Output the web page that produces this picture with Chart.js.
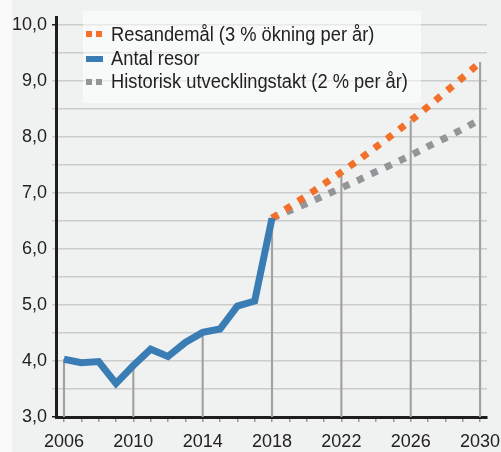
<!DOCTYPE html>
<html>
<head>
<meta charset="utf-8">
<script src="https://cdn.jsdelivr.net/npm/chart.js@4"></script>
<style>
  html, body { margin: 0; padding: 0; }
  body {
    width: 501px; height: 452px; overflow: hidden;
    background: linear-gradient(to right, #fafafa 0, #fafafa 12px, #f0f1f1 12px);
  }
  #wrap { position: relative; width: 501px; height: 452px; }
  #legend {
    position: absolute; left: 83px; top: 11px; width: 338px; height: 92px;
    background: rgba(255, 255, 255, 0.55);
    font-family: "Liberation Sans", Arial, sans-serif;
    font-size: 20px; color: #222;
  }
  #legend .item {
    position: absolute; left: 28px; line-height: 24px; white-space: nowrap;
    transform: scaleX(0.915); transform-origin: 0 0;
  }
  #legend .mark { position: absolute; left: 3px; height: 6px; }
</style>
</head>
<body>
<div id="wrap">
  <canvas id="chart" width="501" height="452"></canvas>
  <div id="legend"></div>
</div>
<script>
// Miljoner resor per år
const years = [2006, 2007, 2008, 2009, 2010, 2011, 2012, 2013, 2014, 2015, 2016, 2017, 2018];
const antalResor = [4.03, 3.97, 3.99, 3.6, 3.92, 4.21, 4.08, 4.33, 4.51, 4.57, 4.98, 5.07, 6.55];

const prognosYears = [2018, 2019, 2020, 2021, 2022, 2023, 2024, 2025, 2026, 2027, 2028, 2029, 2030];
const resandemal = [6.55, 6.75, 6.95, 7.16, 7.37, 7.59, 7.82, 8.05, 8.29, 8.54, 8.8, 9.06, 9.33];
const historisk = [6.55, 6.68, 6.81, 6.95, 7.09, 7.23, 7.38, 7.52, 7.67, 7.83, 7.98, 8.14, 8.31];

const labelYears = [2006, 2010, 2014, 2018, 2022, 2026, 2030];
const yTicks = [3, 3.5, 4, 4.5, 5, 5.5, 6, 6.5, 7, 7.5, 8, 8.5, 9, 9.5, 10];

const orange = '#f2702a';
const blue = '#3a7db4';
const grey = '#939598';

const toXY = (xs, ys) => xs.map((x, i) => ({ x: x, y: ys[i] }));

// drop lines from the axis up to the highest curve at each labelled year
const series = [toXY(years, antalResor), toXY(prognosYears, resandemal), toXY(prognosYears, historisk)];
const dropData = labelYears.map(yr => {
  let top = 3;
  series.forEach(s => s.forEach(p => { if (p.x === yr && p.y > top) top = p.y; }));
  return { x: yr, y: [3, top] };
});

const allYears = [];
for (let y = years[0]; y <= prognosYears[prognosYears.length - 1]; y++) allYears.push(y);

const tickFont = { family: '"Liberation Sans", Arial, sans-serif', size: 18, lineHeight: 1 };

const datasets = [
  {
    type: 'bar', label: '', data: dropData, backgroundColor: '#a2a2a2',
    barThickness: 1.5, grouped: false, order: 10
  },
  {
    label: 'Resandemål (3 % ökning per år)', data: series[1], borderColor: orange,
    borderWidth: 7, borderDash: [7, 8.5], borderCapStyle: 'butt', pointRadius: 0, order: 2,
    legendMark: 'dots', markTop: 20
  },
  {
    label: 'Antal resor', data: series[0], borderColor: blue,
    borderWidth: 7, borderJoinStyle: 'miter', pointRadius: 0, order: 1,
    legendMark: 'bar', markTop: 45
  },
  {
    label: 'Historisk utvecklingstakt (2 % per år)', data: series[2], borderColor: grey,
    borderWidth: 7, borderDash: [7, 8.5], borderCapStyle: 'butt', pointRadius: 0, order: 3,
    legendMark: 'dots', markTop: 68
  }
];

const ctx = document.getElementById('chart').getContext('2d');
const chart = new Chart(ctx, {
  type: 'line',
  data: { datasets: datasets },
  options: {
    responsive: false,
    animation: false,
    events: [],
    layout: { padding: { left: 12, right: 14, top: 17, bottom: 0 } },
    plugins: { legend: { display: false }, tooltip: { enabled: false } },
    scales: {
      x: {
        type: 'linear', min: 2005.54, max: 2030.4, offset: false,
        afterBuildTicks: s => { s.ticks = allYears.map(v => ({ value: v })); },
        afterFit: s => { s.paddingLeft = 0; s.paddingRight = 0; s.height = 35; },
        ticks: {
          autoSkip: false, maxRotation: 0, padding: 11, color: '#222', font: tickFont,
          callback: v => labelYears.includes(v) ? String(v) : ''
        },
        grid: { offset: false, drawOnChartArea: false, drawTicks: true, tickLength: 5, color: '#9a9a9a', lineWidth: 1.5 },
        border: { color: '#1e1e1e', width: 3 }
      },
      y: {
        min: 3, max: 10.14,
        afterBuildTicks: s => { s.ticks = yTicks.map(v => ({ value: v })); },
        afterFit: s => { s.paddingTop = 0; s.paddingBottom = 0; s.width = 44; },
        ticks: {
          autoSkip: false, padding: 5, color: '#222', font: tickFont,
          callback: v => Number.isInteger(v) ? v.toFixed(1).replace('.', ',') : ''
        },
        grid: {
          color: '#cbcccc', lineWidth: 1.5, tickLength: 4,
          tickColor: c => (c.tick && (c.tick.value === 10 || c.tick.value === 3)) ? '#1e1e1e' : '#cbcccc'
        },
        border: { color: '#1e1e1e', width: 3 }
      }
    }
  }
});

// legend box
const legend = document.getElementById('legend');
const rowTops = [11, 35, 58];
datasets.filter(d => d.legendMark).forEach((d, i) => {
  const item = document.createElement('div');
  item.className = 'item';
  item.style.top = rowTops[i] + 'px';
  item.textContent = d.label;
  legend.appendChild(item);
  if (d.legendMark === 'bar') {
    const m = document.createElement('div');
    m.className = 'mark';
    m.style.top = d.markTop + 'px';
    m.style.width = '17px';
    m.style.background = d.borderColor;
    legend.appendChild(m);
  } else {
    [3, 13].forEach(x => {
      const m = document.createElement('div');
      m.className = 'mark';
      m.style.left = x + 'px';
      m.style.top = d.markTop + 'px';
      m.style.width = '6px';
      m.style.background = d.borderColor;
      legend.appendChild(m);
    });
  }
});
</script>
</body>
</html>
